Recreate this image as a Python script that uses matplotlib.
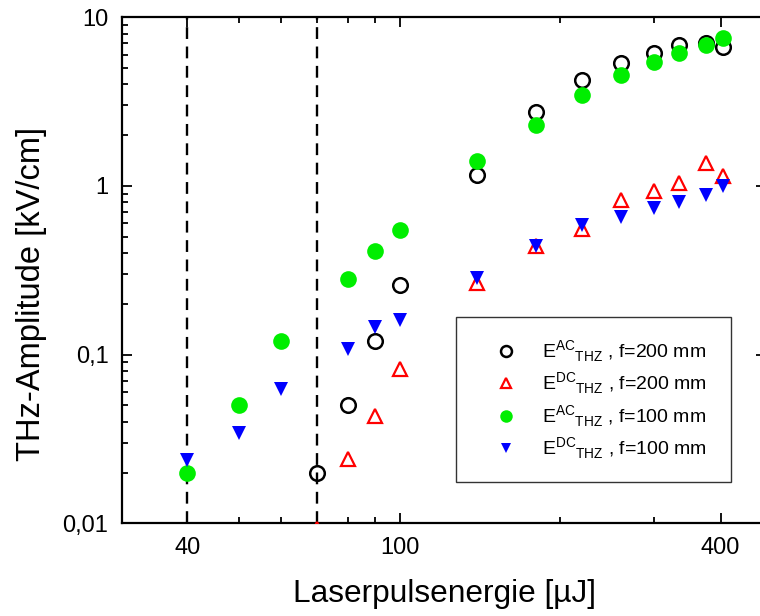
import matplotlib
matplotlib.use("Agg")
import matplotlib.pyplot as plt
from matplotlib.ticker import FixedLocator, NullFormatter

plt.rcParams['font.family'] = ['Liberation Sans', 'DejaVu Sans']
plt.rcParams['mathtext.fontset'] = 'custom'
plt.rcParams['mathtext.rm'] = 'Liberation Sans'

# Data (energy in µJ, amplitude in kV/cm)
x_ac200 = [70, 80, 90, 100, 140, 180, 220, 260, 300, 335, 375, 405]
y_ac200 = [0.020, 0.050, 0.12, 0.26, 1.16, 2.76, 4.25, 5.38, 6.17, 6.85, 7.0, 6.7]

x_dc200 = [70, 80, 90, 100, 140, 180, 220, 260, 300, 335, 375, 405]
y_dc200 = [0.0093, 0.024, 0.0435, 0.082, 0.265, 0.443, 0.556, 0.826, 0.938, 1.04, 1.375, 1.146]

x_ac100 = [40, 50, 60, 80, 90, 100, 140, 180, 220, 260, 300, 335, 375, 405]
y_ac100 = [0.020, 0.050, 0.12, 0.28, 0.41, 0.55, 1.41, 2.30, 3.46, 4.55, 5.41, 6.17, 6.85, 7.5]

x_dc100 = [40, 50, 60, 80, 90, 100, 140, 180, 220, 260, 300, 335, 375, 405]
y_dc100 = [0.0238, 0.0342, 0.0624, 0.1076, 0.1466, 0.160, 0.286, 0.441, 0.587, 0.652, 0.738, 0.807, 0.884, 1.0]

vlines_x = [40, 70]

x_major = [40, 100, 400]
x_major_labels = ['40', '100', '400']
x_minor = [50, 60, 70, 80, 90, 200, 300]
y_major = [0.01, 0.1, 1, 10]
y_major_labels = ['0,01', '0,1', '1', '10']

labels = [r'E$^{\mathregular{AC}}$$_{\mathregular{THZ}}$ , f=200 mm',
          r'E$^{\mathregular{DC}}$$_{\mathregular{THZ}}$ , f=200 mm',
          r'E$^{\mathregular{AC}}$$_{\mathregular{THZ}}$ , f=100 mm',
          r'E$^{\mathregular{DC}}$$_{\mathregular{THZ}}$ , f=100 mm']

fig = plt.figure(figsize=(7.6, 6.16), dpi=100)
ax = fig.add_axes([0.161, 0.1505, 0.847, 0.8214])
ax.set_xscale('log')
ax.set_yscale('log')
ax.set_xlim(30.2, 487)
ax.set_ylim(0.01, 10)

for xv in vlines_x:
    ax.axvline(xv, color='black', lw=1.7, dashes=(5, 3.2), zorder=1)

ax.plot(x_ac200, y_ac200, linestyle='none', marker='o', markersize=10.5,
        markerfacecolor='none', markeredgecolor='black', markeredgewidth=1.8,
        label=labels[0], zorder=3)
ax.plot(x_dc200, y_dc200, linestyle='none', marker='^', markersize=10,
        markerfacecolor='none', markeredgecolor='#ff0000', markeredgewidth=1.6,
        label=labels[1], zorder=3)
ax.plot(x_ac100, y_ac100, linestyle='none', marker='o', markersize=12,
        markerfacecolor='#00ee00', markeredgecolor='#00ee00', markeredgewidth=0,
        label=labels[2], zorder=4)
ax.plot(x_dc100, y_dc100, linestyle='none', marker='v', markersize=10.5,
        markerfacecolor='#0000ff', markeredgecolor='#0000ff', markeredgewidth=0,
        label=labels[3], zorder=4)

ax.xaxis.set_major_locator(FixedLocator(x_major))
ax.xaxis.set_ticklabels(x_major_labels)
ax.xaxis.set_minor_locator(FixedLocator(x_minor))
ax.xaxis.set_minor_formatter(NullFormatter())
ax.yaxis.set_major_locator(FixedLocator(y_major))
ax.yaxis.set_ticklabels(y_major_labels)

ax.tick_params(which='both', direction='in', top=True, right=True, width=1.3)
ax.tick_params(which='major', length=7.5, labelsize=17, pad=10)
ax.tick_params(which='minor', length=4.5)
for s in ax.spines.values():
    s.set_linewidth(1.6)

ax.set_xlabel('Laserpulsenergie [µJ]', fontsize=22.8, labelpad=14)
ax.set_ylabel('THz-Amplitude [kV/cm]', fontsize=23.5)
ax.yaxis.set_label_coords(-0.117, 0.454)

leg = ax.legend(loc='upper left', bbox_to_anchor=(0.518, 0.0, 0.427, 0.408),
                mode='expand', borderaxespad=0,
                fontsize=14, frameon=True, fancybox=False, edgecolor='black',
                borderpad=1.1, handletextpad=0.35, labelspacing=0.33,
                handlelength=3.0, markerscale=0.75)
leg.get_frame().set_linewidth(1.0)

fig.savefig('out.png', dpi=100)
